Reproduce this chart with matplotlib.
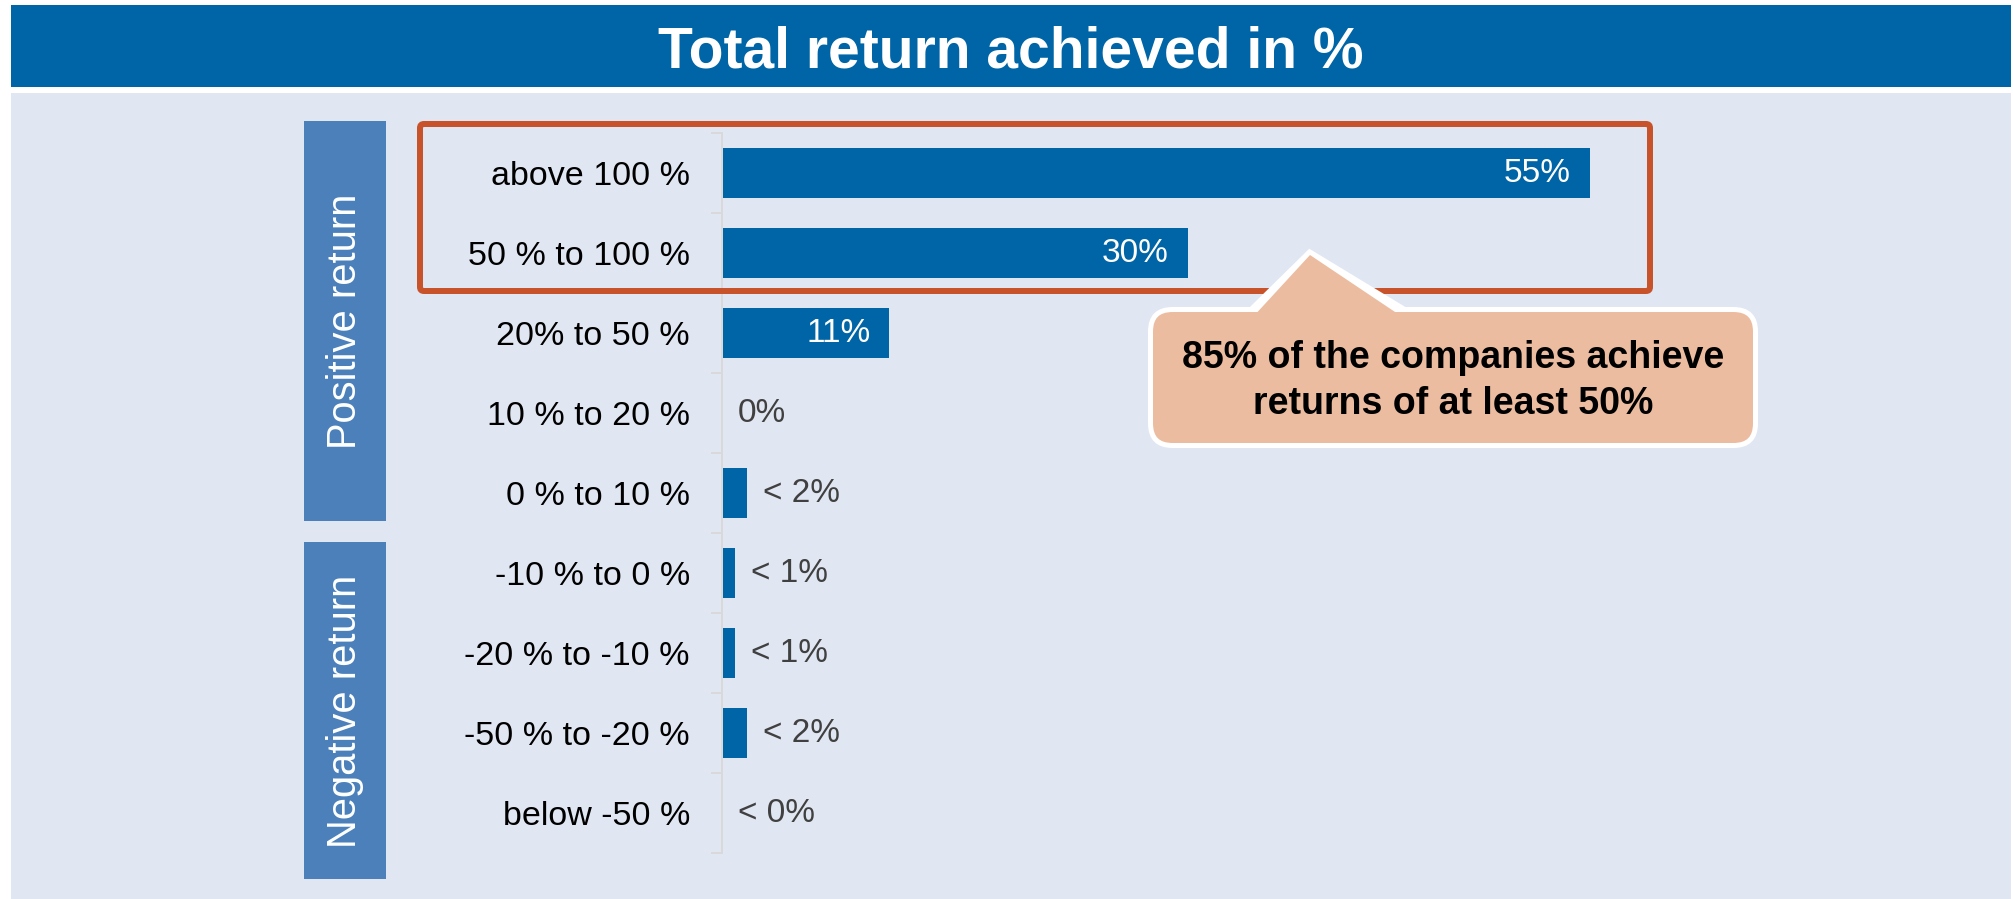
import matplotlib
matplotlib.use("Agg")
import matplotlib.pyplot as plt
from matplotlib.patches import Rectangle, FancyBboxPatch, Polygon

plt.rcParams['font.family'] = ['Liberation Sans', 'DejaVu Sans']

# ---------------- data ----------------
title = "Total return achieved in %"
categories = ["above 100 %", "50 % to 100 %", "20% to 50 %", "10 % to 20 %",
              "0 % to 10 %", "-10 % to 0 %", "-20 % to -10 %", "-50 % to -20 %",
              "below -50 %"]
shares = [55, 29.5, 10.6, 0, 1.6, 0.8, 0.8, 1.6, 0]
value_labels = ["55%", "30%", "11%", "0%", "< 2%", "< 1%", "< 1%", "< 2%", "< 0%"]
label_inside = [True, True, True, False, False, False, False, False, False]
group_labels = ["Positive return", "Negative return"]
callout_lines = ["85% of the companies achieve", "returns of at least 50%"]

# ---------------- style ----------------
W, H = 2013, 899
DPI = 100
BLUE = "#0065A6"
PANEL = "#E0E6F2"
SIDE = "#4C80BA"
RED = "#C8532A"
PEACH = "#ECBCA0"
GRID = "#D9D9D9"
PX = 72.0 / DPI  # points per pixel

fig = plt.figure(figsize=(W / DPI, H / DPI), dpi=DPI, facecolor="white")

# background layer in pixel coordinates
bg = fig.add_axes([0, 0, 1, 1], zorder=0)
bg.set_xlim(0, W)
bg.set_ylim(H, 0)
bg.axis("off")
bg.add_patch(Rectangle((11, 5), 2000, 82, facecolor=BLUE, edgecolor="none"))
bg.add_patch(Rectangle((11, 93), 2000, H - 93, facecolor=PANEL, edgecolor="none"))
bg.text(1011, 67, title, color="white", fontsize=41, fontweight="bold",
        ha="center", va="baseline")
# group side boxes
bg.add_patch(Rectangle((304, 121), 82, 400, facecolor=SIDE, edgecolor="none"))
bg.add_patch(Rectangle((304, 542), 82, 337, facecolor=SIDE, edgecolor="none"))
bg.text(345, 321, group_labels[0], color="white", fontsize=28.7, rotation=90,
        ha="center", va="center")
bg.text(345, 711, group_labels[1], color="white", fontsize=28.7, rotation=90,
        ha="center", va="center")

# ---------------- chart ----------------
ax_left, ax_top, ax_bottom = 722, 133, 853
xmax = 60
px_per_unit = 15.78
ax_width = xmax * px_per_unit
ax = fig.add_axes([ax_left / W, 1 - ax_bottom / H, ax_width / W, (ax_bottom - ax_top) / H],
                  zorder=1)
ax.patch.set_alpha(0)
y = list(range(len(categories)))
ax.barh(y, shares, height=0.625, color=BLUE, zorder=2)
ax.set_xlim(0, xmax)
ax.set_ylim(len(categories) - 0.5, -0.5)
ax.set_yticks(y)
ax.set_yticklabels(categories, fontsize=24.5, color="black")
ax.set_yticks([i - 0.5 for i in range(len(categories) + 1)], minor=True)
ax.tick_params(axis="y", which="major", length=0, pad=32 * PX)
ax.tick_params(axis="y", which="minor", length=11 * PX, width=2 * PX, color=GRID)
ax.set_xticks([])
for s in ["top", "right", "bottom"]:
    ax.spines[s].set_visible(False)
ax.spines["left"].set_color(GRID)
ax.spines["left"].set_linewidth(2 * PX)

for yi, v, lab, inside in zip(y, shares, value_labels, label_inside):
    if inside:
        ax.annotate(lab, (v, yi), xytext=(-19 * PX, 0), textcoords="offset points",
                    ha="right", va="center", color="white", fontsize=24, zorder=3)
    else:
        ax.annotate(lab, (v, yi), xytext=(16 * PX, 0), textcoords="offset points",
                    ha="left", va="center", color="#404040", fontsize=24, zorder=3)

# ---------------- overlay ----------------
ov = fig.add_axes([0, 0, 1, 1], zorder=2)
ov.patch.set_alpha(0)
ov.set_xlim(0, W)
ov.set_ylim(H, 0)
ov.axis("off")
ov.add_patch(FancyBboxPatch((420, 124), 1230, 167,
                            boxstyle="round,pad=0,rounding_size=4",
                            facecolor="none", edgecolor=RED, linewidth=6 * PX))
# callout
tri = [(1252, 312), (1310, 255), (1404, 312)]
ov.add_patch(Polygon(tri, closed=True, facecolor=PEACH, edgecolor="white",
                     linewidth=10 * PX, joinstyle="miter"))
ov.add_patch(FancyBboxPatch((1150.5, 309.5), 605, 136,
                            boxstyle="round,pad=0,rounding_size=22",
                            facecolor=PEACH, edgecolor="white", linewidth=5 * PX))
tri2 = [(1252, 318), (1310, 255), (1404, 318)]
ov.add_patch(Polygon(tri2, closed=True, facecolor=PEACH, edgecolor="none"))
ov.text(1453, 368, callout_lines[0], fontsize=27, fontweight="bold",
        ha="center", va="baseline", color="black")
ov.text(1453, 414, callout_lines[1], fontsize=27, fontweight="bold",
        ha="center", va="baseline", color="black")

fig.savefig("out.png", dpi=DPI, facecolor="white")
